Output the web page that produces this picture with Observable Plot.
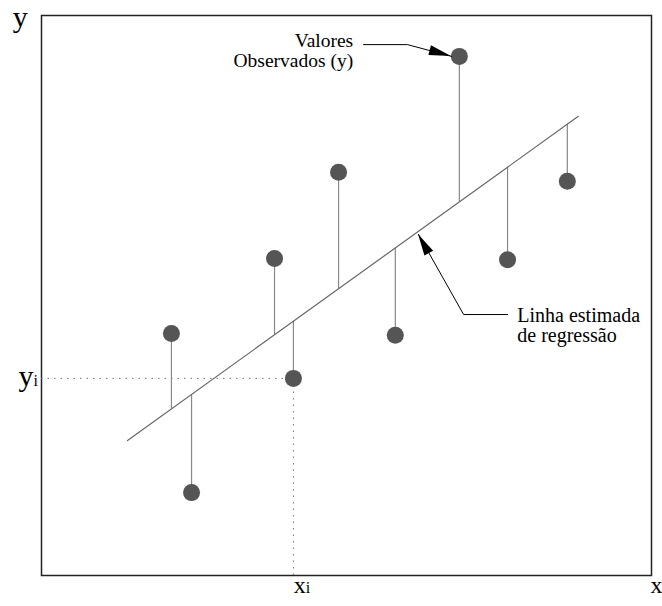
<!DOCTYPE html>
<html>
<head>
<meta charset="utf-8">
<script src="https://cdn.jsdelivr.net/npm/d3@7"></script>
<script src="https://cdn.jsdelivr.net/npm/@observablehq/plot@0.6"></script>
<style>
  body { margin: 0; background: #fff; }
  svg text { font-family: 'Liberation Serif', 'DejaVu Serif', serif; }
</style>
</head>
<body>
<div id="chart"></div>
<script>
// Observed values
const xObs = [21.3, 24.6, 38.2, 41.3, 48.7, 58.0, 68.5, 76.4, 86.2];
const yObs = [43.2, 14.8, 56.6, 35.2, 72.0, 42.9, 92.7, 56.4, 70.4];

// Estimated regression line  y = a + b x
const fitIntercept = 13.05;
const fitSlope = 0.7835;
const fitXRange = [14.1, 88.0];

// Highlighted observation (x_i, y_i)
const highlight = 3;

// Annotation leaders (polyline ending at the arrow tip)
const obsLeader = [[52.8, 94.8], [60.0, 94.8], [67.2, 92.7]];
const fitLeader = [[76.4, 46.6], [69.2, 46.6], [61.8, 60.9]];
const obsLabel = "Valores\nObservados (y)";
const fitLabel = "Linha estimada\nde regressão";

const fit = x => fitIntercept + fitSlope * x;
const obs = xObs.map((x, i) => ({x, y: yObs[i], yhat: fit(x)}));
const fitLine = fitXRange.map(x => ({x, y: fit(x)}));
const xi = xObs[highlight], yi = yObs[highlight];

// Filled arrowhead drawn through the plot's scales
function arrowHead(points, len = 22, half = 5) {
  return (index, scales) => {
    const [a, b] = points.slice(-2);
    const x0 = scales.x(a[0]), y0 = scales.y(a[1]);
    const x1 = scales.x(b[0]), y1 = scales.y(b[1]);
    const d = Math.hypot(x1 - x0, y1 - y0);
    const ux = (x1 - x0) / d, uy = (y1 - y0) / d;
    const bx = x1 - ux * len, by = y1 - uy * len;
    const g = d3.create("svg:g");
    g.append("path")
      .attr("d", `M${x1},${y1}L${bx - uy * half},${by + ux * half}L${bx + uy * half},${by - ux * half}Z`)
      .attr("fill", "#000");
    return g.node();
  };
}

const serif = "'Liberation Serif', 'DejaVu Serif', serif";
const txt = {text: d => d, fill: "#000", fontFamily: serif};

const chart = Plot.plot({
  width: 662,
  height: 606,
  marginLeft: 41,
  marginRight: 11,
  marginTop: 15,
  marginBottom: 31,
  style: {fontFamily: serif, background: "#fff", color: "#000"},
  x: {domain: [0, 100], axis: null},
  y: {domain: [0, 100], axis: null},
  marks: [
    Plot.frame({stroke: "#222", strokeWidth: 1.5}),
    // dotted guides to x_i and y_i
    Plot.ruleY([yi], {x1: 0, x2: xi, stroke: "#777", strokeDasharray: "1.5,5"}),
    Plot.ruleX([xi], {y1: 0, y2: yi, stroke: "#777", strokeDasharray: "1.5,5"}),
    // residuals
    Plot.ruleX(obs, {x: "x", y1: "y", y2: "yhat", stroke: "#888", strokeWidth: 1.2}),
    // regression line
    Plot.line(fitLine, {x: "x", y: "y", stroke: "#666", strokeWidth: 1.2}),
    // observations
    Plot.dot(obs, {x: "x", y: "y", r: 8.5, fill: "#555", stroke: "none"}),
    // annotations
    Plot.line(obsLeader, {x: d => d[0], y: d => d[1], stroke: "#000", strokeWidth: 1}),
    arrowHead(obsLeader),
    Plot.line(fitLeader, {x: d => d[0], y: d => d[1], stroke: "#000", strokeWidth: 1}),
    arrowHead(fitLeader),
    Plot.text([obsLabel], {...txt, x: 51.1, y: 90.77, textAnchor: "end", lineAnchor: "bottom", fontSize: 19.5, lineHeight: 1.05}),
    Plot.text([fitLabel], {...txt, x: 78.0, y: 41.66, textAnchor: "start", lineAnchor: "bottom", fontSize: 20, lineHeight: 1.0}),
    // axis letters
    Plot.text(["y"], {...txt, x: -3.5, y: 97.86, textAnchor: "middle", lineAnchor: "bottom", fontSize: 30}),
    Plot.text(["y"], {...txt, x: -1.31, y: 33.84, textAnchor: "end", lineAnchor: "bottom", fontSize: 30}),
    Plot.text(["i"], {...txt, x: -1.31, y: 33.84, textAnchor: "start", lineAnchor: "bottom", fontSize: 16}),
    Plot.text(["x"], {...txt, x: 43.3, y: -3.04, textAnchor: "end", lineAnchor: "bottom", fontSize: 24}),
    Plot.text(["i"], {...txt, x: 43.3, y: -3.04, textAnchor: "start", lineAnchor: "bottom", fontSize: 16}),
    Plot.text(["x"], {...txt, x: 101.8, y: -3.04, textAnchor: "end", lineAnchor: "bottom", fontSize: 24})
  ]
});

document.getElementById("chart").appendChild(chart);
</script>
</body>
</html>
